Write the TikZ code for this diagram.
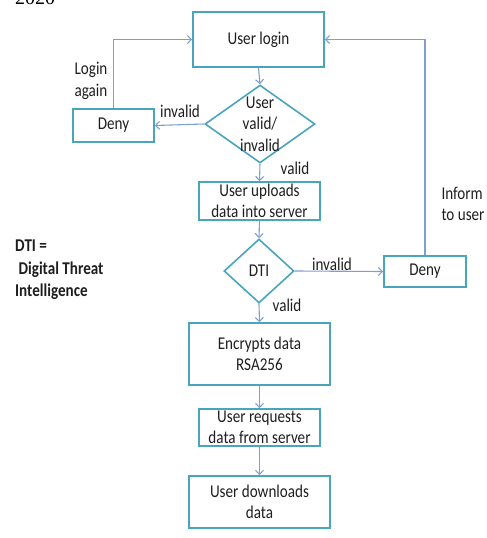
\documentclass[tikz,border=0pt]{standalone}
\usepackage{fontspec}
\setmainfont[FakeStretch=0.84]{Carlito}
\newfontfamily\yearfont{Liberation Serif}
\usetikzlibrary{shapes.geometric,arrows.meta}
\definecolor{boxc}{RGB}{72,165,188}
\definecolor{arrc}{RGB}{128,158,206}
\definecolor{txtc}{RGB}{30,30,30}
\tikzset{
  box/.style={draw=boxc, line width=1.6pt, rectangle, inner sep=0pt, align=center, text=txtc, font=\fontsize{18}{21.5}\selectfont},
  dia/.style={draw=boxc, line width=1.6pt, diamond, inner sep=0pt},
  lbl/.style={inner sep=0pt, align=center, text=txtc, font=\fontsize{18}{21.5}\selectfont},
  arr/.style={draw=arrc, line width=1.1pt, -{Straight Barb[length=4pt,width=8pt]}},
}
\begin{document}
\begin{tikzpicture}[x=1pt,y=-1pt]
\useasboundingbox (0,0) rectangle (487,538);
\node[anchor=base west, inner sep=0pt, font=\yearfont\fontsize{20}{22}\selectfont] (year) at (15,5) {2020};
\node[box, minimum width=131, minimum height=55] (login) at (258.5,39.5) {User login};
\node[dia, minimum width=110, minimum height=78] (d1) at (260,124) {};
\node[lbl] (d1t) at (260,124) {User\\valid/\\invalid};
\node[box, minimum width=81, minimum height=33] (deny1) at (113.5,125.5) {Deny};
\node[box, minimum width=121, minimum height=38] (up) at (259.5,201) {User uploads\\data into server};
\node[dia, minimum width=70, minimum height=64] (dti) at (259,271) {};
\node[lbl] (dtit) at (259,271) {DTI};
\node[box, minimum width=82, minimum height=31] (deny2) at (425,271.5) {Deny};
\node[box, minimum width=141, minimum height=62] (enc) at (259.5,354) {Encrypts data\\RSA256};
\node[box, minimum width=121, minimum height=37] (req) at (259.5,427.5) {User requests\\data from server};
\node[box, minimum width=141, minimum height=52] (down) at (259.5,502) {User downloads\\data};
\node[lbl] (lagain) at (91,81) {Login\\again};
\node[lbl] (inv1) at (180,111) {invalid};
\node[lbl] (val1) at (295,168) {valid};
\node[lbl] (inv2) at (332,264) {invalid};
\node[lbl] (val2) at (287,305) {valid};
\node[lbl, align=left] (inform) at (463,204) {Inform\\to user};
\node[lbl, align=left, anchor=north west, font=\bfseries\fontsize{18}{22.5}\selectfont] (dtidef) at (15,240) {DTI =\\\ Digital Threat\\Intelligence};
\draw[arr] (login.south) -- (d1.north);
\draw[arr] (d1.west) -- (deny1.east);
\draw[arr] (deny1.north) |- (login.west);
\draw[arr] (d1.south) -- (up.north);
\draw[arr] (up.south) -- (dti.north);
\draw[arr] (dti.east) -- (deny2.west);
\draw[arr] (deny2.north) |- (login.east);
\draw[arr] (dti.south) -- (enc.north);
\draw[arr] (enc.south) -- (req.north);
\draw[arr] (req.south) -- (down.north);
\end{tikzpicture}
\end{document}
